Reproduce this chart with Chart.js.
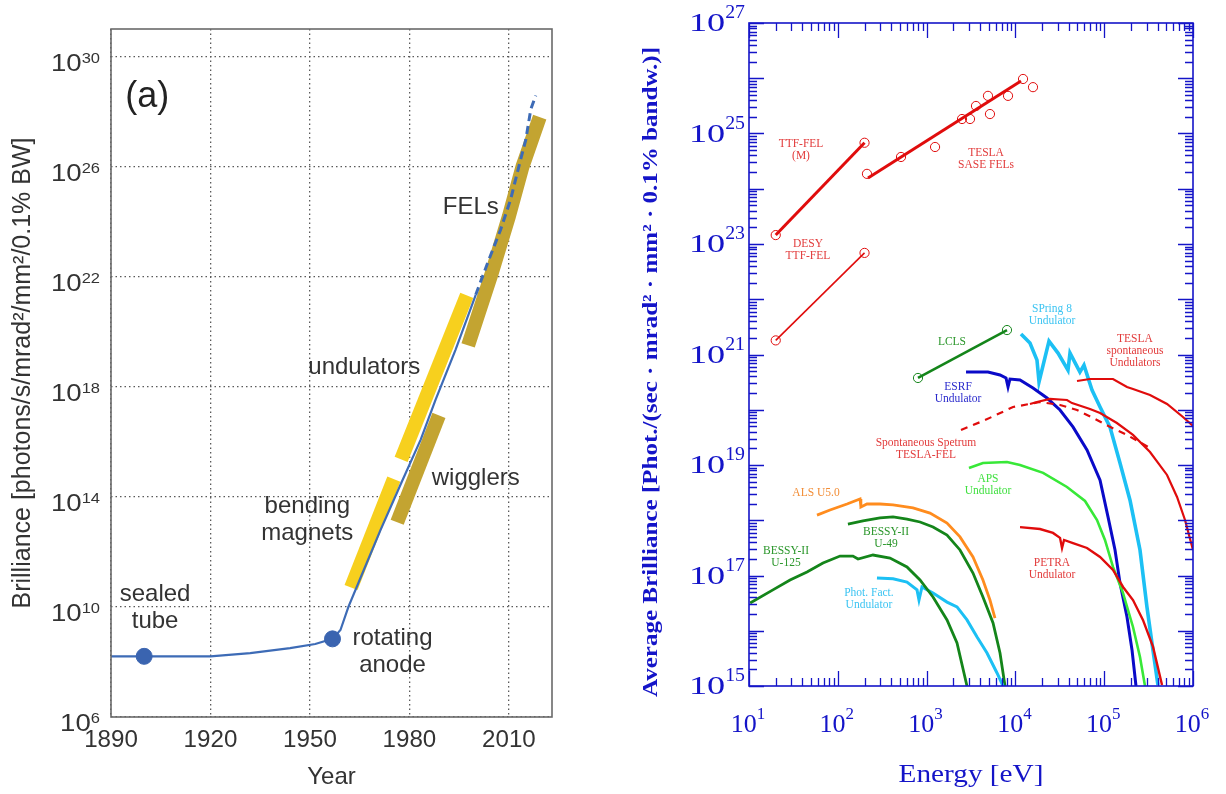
<!DOCTYPE html>
<html>
<head>
<meta charset="utf-8">
<script src="https://cdn.jsdelivr.net/npm/chart.js@4.4.1/dist/chart.umd.min.js"></script>
<style>
  html, body { margin: 0; padding: 0; background: #fff; }
  #wrap { position: relative; width: 1226px; height: 794px; overflow: hidden; }
  #left { position: absolute; left: 0; top: 0; }
  #right { position: absolute; left: 612px; top: 0; }
</style>
</head>
<body>
<div id="wrap">
  <canvas id="left" width="612" height="794"></canvas>
  <canvas id="right" width="614" height="794"></canvas>
</div>
<script>
// ================= Panel (a): peak brilliance of X-ray sources vs. year =================
const yearTicks = [1890, 1920, 1950, 1980, 2010];
const brillianceTickExps = [6, 10, 14, 18, 22, 26, 30];

// conventional sources and storage rings (solid trend)
const trendYears = [1890, 1900, 1920, 1932, 1944, 1951.6, 1956.8, 1959.2, 1961.6, 1965.2, 1971.3, 1977.3, 1983.4, 1987.9, 1993.9, 2000];
const trendBrilliance = [1.6e8, 1.6e8, 1.6e8, 2.1e8, 3.2e8, 4.5e8, 6.9e8, 1.45e9, 1e10, 1.1e11, 6.3e12, 2.75e14, 1.2e16, 3.4e17, 2.2e19, 2.2e21];
// projected free-electron-laser trend (dashed)
const felTrendYears = [2000, 2003.6, 2007.5, 2010.5, 2013, 2015.1, 2016.6, 2018.1];
const felTrendBrilliance = [2.2e21, 3.2e22, 5.1e23, 6.3e24, 1e26, 9.5e26, 1.2e28, 3.8e28];
// sealed tube, rotating anode
const sourceYears = [1900, 1956.8];
const sourceBrilliance = [1.6e8, 6.9e8];

// source-generation bands
const bendingYears = [1962.4, 1975.3];
const bendingBrilliance = [5.1e10, 4.4e14];
const wigglerYears = [1976.3, 1988.9];
const wigglerBrilliance = [1.2e13, 9.1e16];
const undulatorYears = [1977.5, 1997.3];
const undulatorBrilliance = [2.3e15, 2.1e21];
const felYears = [1997.7, 2004.5, 2010, 2014.1, 2019.3];
const felBrilliance = [3.2e19, 1e22, 1.55e24, 1e26, 6.3e27];

// annotations (anchored in data units)
const leftNoteText = [['sealed', 'tube'], ['rotating', 'anode'], ['bending', 'magnets'], ['wigglers'], ['undulators'], ['FELs']];
const leftNoteYear = [1903.3, 1974.9, 1949.2, 2000, 1966.4, 1998.5];
const leftNoteBrilliance = [9.1e9, 2.4e8, 1.5e13, 4.5e14, 4.9e18, 3.2e24];
const panelTagYear = 1900.9, panelTagBrilliance = 3.5e28;

// ================= Panel (b): average brilliance vs. photon energy =================
const energyDecadeExps = [1, 2, 3, 4, 5, 6];
const brillDecadeExps = [15, 16, 17, 18, 19, 20, 21, 22, 23, 24, 25, 26, 27];
const brillLabelExps = [15, 17, 19, 21, 23, 25, 27];
const minorFactors = [2, 3, 4, 5, 6, 7, 8, 9];

const ttfME = [20, 200];
const ttfMB = [1.45e23, 6.8e24];
const desyE = [20, 200];
const desyB = [1.8e21, 6.9e22];
const saseLineE = [219, 11560];
const saseLineB = [1.57e24, 8.9e25];
const saseE = [213, 515, 1245, 2506, 3083, 3600, 4910, 5170, 8260, 12190, 15780];
const saseB = [1.86e24, 3.76e24, 5.7e24, 1.83e25, 1.83e25, 3.15e25, 4.8e25, 2.25e25, 4.8e25, 9.7e25, 6.9e25];
const lclsE = [800, 8040];
const lclsB = [3.76e20, 2.77e21];
const spring8E = [11560, 14590, 17500, 18450, 23900, 30200, 39100, 41200, 53300, 59200, 72900, 89800, 116000, 150600, 195300, 253000, 303000, 345000, 403000];
const spring8B = [2.35e21, 1.61e21, 7.9e20, 3.18e20, 1.75e21, 1.06e21, 5.2e20, 1.06e21, 4.8e20, 6.4e20, 2.27e20, 1.12e20, 4.9e19, 1.09e19, 2.3e18, 2.9e17, 2.7e16, 6.0e15, 1.04e15];
const esrfE = [2780, 4910, 6710, 7840, 8260, 8690, 11270, 15780, 22700, 31800, 44500, 64000, 89800, 110400, 132400, 150600, 180600, 205700, 228000];
const esrfB = [4.8e20, 4.8e20, 4.26e20, 3.76e20, 2.58e20, 3.6e20, 3.45e20, 2.48e20, 1.63e20, 9.9e19, 4.9e19, 1.87e19, 5.3e18, 1.15e18, 2.9e17, 7.3e16, 1.77e16, 4.5e15, 1e15];
const apsE = [3000, 4310, 8040, 11270, 20500, 38100, 60800, 83000, 102000, 125600, 163000, 211000, 253000, 288000];
const apsB = [8.8e18, 1.09e19, 1.13e19, 1.0e19, 7.2e18, 4.0e18, 2.23e18, 1.01e18, 4.4e17, 1.43e17, 4.8e16, 1.17e16, 3.35e15, 1e15];
const teslaSpontE = [49400, 69200, 125600, 180600, 211000, 328000, 510000, 771000, 1e6];
const teslaSpontB = [3.31e20, 3.6e20, 3.6e20, 2.58e20, 2.38e20, 1.85e20, 1.27e20, 7.4e19, 5.1e19];
const spontDashE = [2440, 4550, 9400, 18900, 31800, 49400, 74800, 116000, 180600, 328000];
const spontDashB = [4.3e19, 6.5e19, 1.12e20, 1.38e20, 1.22e20, 9.9e19, 7.1e19, 4.9e19, 3.5e19, 2.03e19];
const spontE = [14590, 17500, 24500, 38100, 43400, 69200, 89800, 139000, 211000, 328000, 510000, 661000, 813000, 1e6];
const spontB = [1.27e20, 1.38e20, 1.57e20, 1.5e20, 1.32e20, 1.03e20, 8.7e19, 5.75e19, 3.5e19, 1.72e19, 6.6e18, 2.64e18, 1.01e18, 2.9e17];
const petraE = [11270, 18900, 26500, 31800, 33500, 35300, 44500, 64000, 89800, 125600, 163000, 211000, 273000, 355000, 448000];
const petraB = [7.5e17, 6.95e17, 5.9e17, 4.8e17, 3.15e17, 4.4e17, 3.87e17, 3.15e17, 2.16e17, 1.26e17, 6.2e16, 3.6e16, 1.57e16, 5.1e15, 1.04e15];
const alsE = [58.3, 81.7, 127, 178, 182, 213, 299, 419, 703, 1092, 1698, 2377, 3330, 4310, 5170, 5890];
const alsB = [1.24e18, 1.53e18, 1.97e18, 2.43e18, 1.74e18, 1.97e18, 1.97e18, 1.89e18, 1.67e18, 1.35e18, 8.9e17, 5.0e17, 2.16e17, 8.3e16, 3.6e16, 1.7e16];
const u49E = [130, 192, 299, 419, 601, 843, 1181, 1698, 2377, 3330, 4310, 5600, 6710, 7640];
const u49B = [8.55e17, 9.7e17, 1.1e18, 1.15e18, 1.05e18, 9.3e17, 7.55e17, 5.4e17, 2.9e17, 1.11e17, 4.08e16, 1.38e16, 3.95e15, 1e15];
const u125E = [10.3, 18.6, 29, 45, 68.1, 106, 148, 169, 249, 387, 601, 843, 1181, 1698, 2200, 2850];
const u125B = [3.18e16, 5.5e16, 8.3e16, 1.16e17, 1.68e17, 2.25e17, 2.25e17, 1.99e17, 2.35e17, 2.07e17, 1.43e17, 8.3e16, 4.08e16, 1.57e16, 6.0e15, 1e15];
const photFactE = [276, 419, 601, 780, 821, 887, 1181, 1698, 2200, 2850, 3700, 4790, 6210, 7250];
const photFactB = [9.0e16, 8.7e16, 7.6e16, 5.5e16, 3.6e16, 6.2e16, 4.8e16, 3.3e16, 2.7e16, 1.57e16, 7.7e15, 3.95e15, 1.72e15, 1e15];

const rightNoteText = [['TTF-FEL', '(M)'], ['DESY', 'TTF-FEL'], ['TESLA', 'SASE FELs'], ['LCLS'], ['SPring 8', 'Undulator'],
  ['TESLA', 'spontaneous', 'Undulators'], ['ESRF', 'Undulator'], ['Spontaneous Spetrum', 'TESLA-FEL'], ['APS', 'Undulator'],
  ['ALS U5.0'], ['BESSY-II', 'U-49'], ['BESSY-II', 'U-125'], ['Phot. Fact.', 'Undulator'], ['PETRA', 'Undulator']];
const rightNoteE = [38.5, 46.1, 4670, 1930, 25800, 222000, 2260, 984, 4910, 56.8, 349, 26.1, 224, 25800];
const rightNoteB = [5.0e24, 7.8e22, 3.5e24, 1.68e21, 5.2e21, 1.16e21, 2.0e20, 1.99e19, 4.35e18, 3.1e18, 4.8e17, 2.16e17, 3.76e16, 1.31e17];

// ---------------- styling ----------------
const SANS = '"Liberation Sans", Arial, Helvetica, sans-serif';
const SERIF = '"Liberation Serif", "Times New Roman", serif';
const INK = '#333333';
const AXIS_BLUE = '#1414c8';
const RED = '#e00c0c', GREEN = '#14851a', SKY = '#1cc0f4', BLUE = '#0a0ac8', LIME = '#38e838', ORANGE = '#ff8c1e';
const rightNoteColor = ['#e23b3b', '#e23b3b', '#e23b3b', '#2a962a', '#3cc4f2', '#e23b3b', '#2a2acc', '#e23b3b', '#40e040',
  '#f28d36', '#2a962a', '#2a962a', '#3cc4f2', '#e23b3b'];

const pts = (xs, ys) => xs.map((v, i) => ({ x: v, y: ys[i] }));

function stretchText(ctx, text, x, y, font, sx, align, baseline) {
  ctx.save();
  ctx.translate(x, y);
  ctx.scale(sx, 1);
  ctx.font = font;
  ctx.textAlign = align || 'left';
  ctx.textBaseline = baseline || 'alphabetic';
  ctx.fillText(text, 0, 0);
  ctx.restore();
}

// "10" with a raised exponent; anchor is the right edge or the centre
function powerLabel(ctx, exp, ax, base, o) {
  ctx.save();
  ctx.font = o.supFont;
  const ws = ctx.measureText(String(exp)).width * o.supScale;
  ctx.font = o.mainFont;
  const wm = ctx.measureText('10').width * o.mainScale;
  const x0 = o.align === 'center' ? ax - (wm + ws) / 2 : ax - wm - ws;
  stretchText(ctx, '10', x0, base, o.mainFont, o.mainScale, 'left');
  stretchText(ctx, String(exp), x0 + wm + (o.gap || 0), base - o.rise, o.supFont, o.supScale, 'left');
  ctx.restore();
}

function multiLine(ctx, lines, x, y, lh) {
  const y0 = y - (lines.length - 1) * lh / 2;
  lines.forEach((t, i) => ctx.fillText(t, x, y0 + i * lh));
}

// ---------------- panel (a) ----------------
const leftDecor = {
  id: 'leftDecor',
  afterDraw(chart) {
    const { ctx, chartArea: a, scales: { x, y } } = chart;
    ctx.save();
    ctx.strokeStyle = '#6a6a6a';
    ctx.lineWidth = 1.6;
    ctx.strokeRect(a.left, a.top, a.right - a.left, a.bottom - a.top);

    ctx.fillStyle = INK;
    yearTicks.forEach(v => stretchText(ctx, String(v), x.getPixelForValue(v), a.bottom + 30, '23px ' + SANS, 1.05, 'center'));
    brillianceTickExps.forEach(e => powerLabel(ctx, e, a.left - 11, y.getPixelForValue(Math.pow(10, e)) + 14,
      { mainFont: '23px ' + SANS, mainScale: 1.2, supFont: '15px ' + SANS, supScale: 1.1, rise: 8, align: 'right' }));

    // axis titles
    ctx.font = '24px ' + SANS;
    ctx.textAlign = 'center';
    ctx.textBaseline = 'middle';
    ctx.fillText('Year', (a.left + a.right) / 2, 777);
    ctx.save();
    ctx.translate(23, (a.top + a.bottom) / 2);
    ctx.rotate(-Math.PI / 2);
    ctx.font = '25px ' + SANS;
    ctx.fillText('Brilliance [photons/s/mrad²/mm²/0.1% BW]', 0, 0);
    ctx.restore();

    // annotations
    ctx.font = '24px ' + SANS;
    leftNoteText.forEach((lines, i) => multiLine(ctx, lines, x.getPixelForValue(leftNoteYear[i]), y.getPixelForValue(leftNoteBrilliance[i]), 27));
    ctx.fillStyle = '#222';
    ctx.font = '36px ' + SANS;
    ctx.fillText('(a)', x.getPixelForValue(panelTagYear), y.getPixelForValue(panelTagBrilliance));
    ctx.restore();
  }
};

const band = (xs, ys, color, order) => ({
  data: pts(xs, ys), borderColor: color, borderWidth: 14, borderCapStyle: 'butt', borderJoinStyle: 'round',
  pointRadius: 0, fill: false, order
});

new Chart(document.getElementById('left'), {
  type: 'line',
  data: {
    datasets: [
      { data: pts(sourceYears, sourceBrilliance), showLine: false, pointRadius: 8, pointBackgroundColor: '#3a64b0', pointBorderColor: '#3a64b0', order: 0 },
      { data: pts(trendYears, trendBrilliance), borderColor: '#3d6bb6', borderWidth: 2.2, pointRadius: 0, order: 1 },
      { data: pts(felTrendYears, felTrendBrilliance), borderColor: '#3d6bb6', borderWidth: 3, borderDash: [8, 5], pointRadius: 0, order: 1 },
      band(bendingYears, bendingBrilliance, '#f7d01e', 5),
      band(wigglerYears, wigglerBrilliance, '#c3a431', 5),
      band(undulatorYears, undulatorBrilliance, '#f7d01e', 5),
      band(felYears, felBrilliance, '#c3a431', 5)
    ]
  },
  options: {
    responsive: false, animation: false, devicePixelRatio: 1,
    layout: { padding: { top: 29, right: 60, left: 0, bottom: 0 } },
    plugins: { legend: { display: false }, tooltip: { enabled: false } },
    scales: {
      x: {
        type: 'linear', min: 1890, max: 2023,
        afterBuildTicks: s => { s.ticks = yearTicks.map(v => ({ value: v })); },
        afterFit: s => { s.height = 77; },
        ticks: { display: false },
        grid: { color: '#5a5a5a', lineWidth: 1.3, drawTicks: false },
        border: { display: false, dash: [1.5, 3] }
      },
      y: {
        type: 'logarithmic', min: 1e6, max: 1e31,
        afterBuildTicks: s => { s.ticks = brillianceTickExps.map(e => ({ value: Math.pow(10, e) })); },
        afterFit: s => { s.width = 111; },
        ticks: { display: false },
        grid: { color: '#5a5a5a', lineWidth: 1.3, drawTicks: false },
        border: { display: false, dash: [1.5, 3] }
      }
    }
  },
  plugins: [leftDecor]
});

// ---------------- panel (b) ----------------
const rightDecor = {
  id: 'rightDecor',
  afterDraw(chart) {
    const { ctx, chartArea: a, scales: { x, y } } = chart;
    ctx.save();
    // inward tick marks on all four sides
    ctx.strokeStyle = AXIS_BLUE;
    ctx.lineWidth = 1.3;
    const vTick = (px, len) => {
      ctx.beginPath();
      ctx.moveTo(px, a.bottom); ctx.lineTo(px, a.bottom - len);
      ctx.moveTo(px, a.top); ctx.lineTo(px, a.top + len);
      ctx.stroke();
    };
    const hTick = (py, len) => {
      ctx.beginPath();
      ctx.moveTo(a.left, py); ctx.lineTo(a.left + len, py);
      ctx.moveTo(a.right, py); ctx.lineTo(a.right - len, py);
      ctx.stroke();
    };
    energyDecadeExps.forEach(e => {
      vTick(Math.round(x.getPixelForValue(Math.pow(10, e))) + 0.5, 15);
      if (e < 6) minorFactors.forEach(f => vTick(Math.round(x.getPixelForValue(f * Math.pow(10, e))) + 0.5, 8));
    });
    brillDecadeExps.forEach(e => {
      hTick(Math.round(y.getPixelForValue(Math.pow(10, e))) + 0.5, 15);
      if (e < 27) minorFactors.forEach(f => hTick(Math.round(y.getPixelForValue(f * Math.pow(10, e))) + 0.5, 8));
    });
    ctx.lineWidth = 1.6;
    ctx.strokeRect(a.left, a.top, a.right - a.left, a.bottom - a.top);

    // tick labels
    ctx.fillStyle = AXIS_BLUE;
    energyDecadeExps.forEach(e => powerLabel(ctx, e, x.getPixelForValue(Math.pow(10, e)) - 1, 732,
      { mainFont: '26px ' + SERIF, mainScale: 1, supFont: '17px ' + SERIF, supScale: 1, rise: 13, align: 'center' }));
    brillLabelExps.forEach(e => powerLabel(ctx, e, a.left - 4, y.getPixelForValue(Math.pow(10, e)) + 8,
      { mainFont: '25px ' + SERIF, mainScale: 1.45, supFont: '18px ' + SERIF, supScale: 1.1, rise: 13, align: 'right' }));

    // axis titles
    ctx.textAlign = 'center';
    ctx.textBaseline = 'middle';
    ctx.font = '26px ' + SERIF;
    let w = ctx.measureText('Energy [eV]').width;
    ctx.save();
    ctx.translate((a.left + a.right) / 2, 775);
    ctx.scale(145 / w, 1);
    ctx.fillText('Energy [eV]', 0, 0);
    ctx.restore();
    const yTitle = 'Average Brilliance [Phot./(sec · mrad² · mm² · 0.1% bandw.)]';
    ctx.font = 'bold 21px ' + SERIF;
    w = ctx.measureText(yTitle).width;
    ctx.save();
    ctx.translate(40, 372);
    ctx.rotate(-Math.PI / 2);
    ctx.scale(650 / w, 1);
    ctx.fillText(yTitle, 0, 0);
    ctx.restore();

    // source labels
    ctx.font = '11.5px ' + SERIF;
    rightNoteText.forEach((lines, i) => {
      ctx.fillStyle = rightNoteColor[i];
      multiLine(ctx, lines, x.getPixelForValue(rightNoteE[i]), y.getPixelForValue(rightNoteB[i]), 12);
    });
    ctx.restore();
  }
};

const curve = (xs, ys, color, width, extra) => Object.assign({
  data: pts(xs, ys), borderColor: color, borderWidth: width, pointRadius: 0, fill: false, order: 2
}, extra || {});
const rings = (xs, ys, color) => ({
  data: pts(xs, ys), showLine: false, pointRadius: 4.6, pointStyle: 'circle', pointBorderWidth: 1,
  pointBorderColor: color, pointBackgroundColor: 'rgba(255,255,255,0)', order: 0
});

new Chart(document.getElementById('right'), {
  type: 'line',
  data: {
    datasets: [
      curve(ttfME, ttfMB, RED, 3), rings(ttfME, ttfMB, RED),
      curve(desyE, desyB, RED, 1.6), rings(desyE, desyB, RED),
      curve(saseLineE, saseLineB, RED, 3), rings(saseE, saseB, RED),
      curve(lclsE, lclsB, GREEN, 2.6), rings(lclsE, lclsB, GREEN),
      curve(u125E, u125B, GREEN, 2.8),
      curve(photFactE, photFactB, SKY, 3),
      curve(u49E, u49B, GREEN, 2.8),
      curve(alsE, alsB, ORANGE, 2.8),
      curve(petraE, petraB, RED, 2.4),
      curve(apsE, apsB, LIME, 2.6),
      curve(spontDashE, spontDashB, RED, 2.2, { borderDash: [7, 6] }),
      curve(spontE, spontB, RED, 2.2),
      curve(teslaSpontE, teslaSpontB, RED, 2.2),
      curve(esrfE, esrfB, BLUE, 3),
      curve(spring8E, spring8B, SKY, 3.6)
    ]
  },
  options: {
    responsive: false, animation: false, devicePixelRatio: 1,
    layout: { padding: { top: 23, right: 33, left: 0, bottom: 0 } },
    plugins: { legend: { display: false }, tooltip: { enabled: false } },
    scales: {
      x: {
        type: 'logarithmic', min: 10, max: 1e6,
        afterFit: s => { s.height = 108; },
        ticks: { display: false }, grid: { display: false }, border: { display: false }
      },
      y: {
        type: 'logarithmic', min: 1e15, max: 1e27,
        afterFit: s => { s.width = 137; },
        ticks: { display: false }, grid: { display: false }, border: { display: false }
      }
    }
  },
  plugins: [rightDecor]
});
</script>
</body>
</html>
